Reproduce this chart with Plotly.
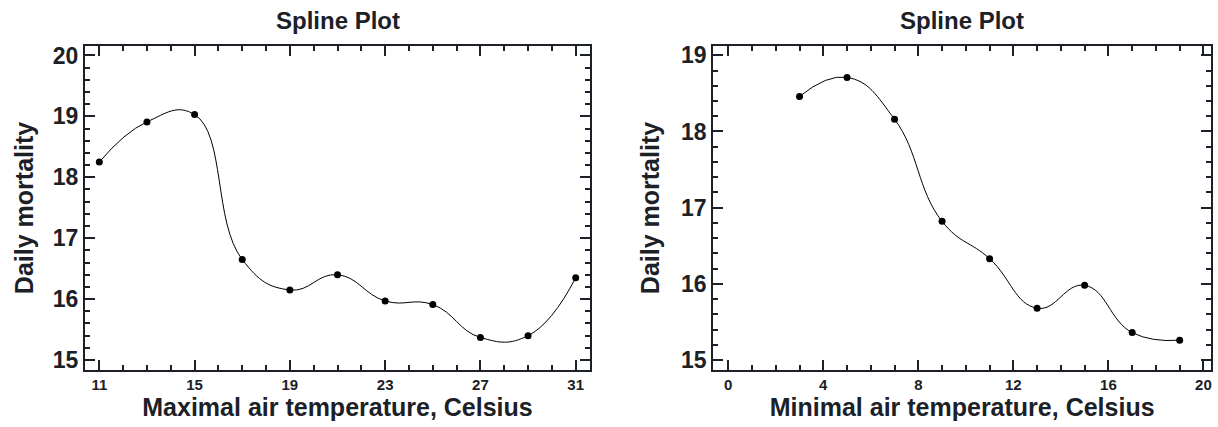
import plotly.graph_objects as go
from plotly.subplots import make_subplots

# Data
max_temp = [11, 13, 15, 17, 19, 21, 23, 25, 27, 29, 31]
mort_max = [18.25, 18.91, 19.03, 16.65, 16.15, 16.40, 15.97, 15.91, 15.37, 15.40, 16.35]
min_temp = [3, 5, 7, 9, 11, 13, 15, 17, 19]
mort_min = [18.46, 18.71, 18.16, 16.82, 16.33, 15.68, 15.98, 15.36, 15.26]

left_xticks = [11, 15, 19, 23, 27, 31]
right_xticks = [0, 4, 8, 12, 16, 20]
left_yticks = [15, 16, 17, 18, 19, 20]
right_yticks = [15, 16, 17, 18, 19]

TXT = "#1b2126"
FONT = "Liberation Sans"

fig = make_subplots(rows=1, cols=2)

for col, (xs, ys) in enumerate([(max_temp, mort_max), (min_temp, mort_min)], start=1):
    fig.add_trace(go.Scatter(
        x=xs, y=ys, mode="lines+markers",
        line=dict(color="black", width=1, shape="spline", smoothing=1.3),
        marker=dict(color="black", size=7),
        showlegend=False,
    ), row=1, col=col)

common_axis = dict(
    showline=True, linecolor=TXT, linewidth=2, mirror="ticks",
    ticks="inside", tickcolor=TXT, tickwidth=1.5, ticklen=10,
    showgrid=False, zeroline=False, automargin=False,
)
minor_common = dict(ticks="inside", ticklen=5, tickcolor=TXT, tickwidth=1.5)

fig.update_layout(
    width=1218, height=427,
    margin=dict(l=0, r=0, t=0, b=0),
    plot_bgcolor="white", paper_bgcolor="white",
    font=dict(family=FONT, color=TXT),
    xaxis=dict(domain=[0.0698, 0.4844], range=[10.4, 31.6],
               tickvals=left_xticks, ticktext=[f"<b>{v}</b>" for v in left_xticks],
               minor=dict(dtick=1, tick0=11, **minor_common),
               tickfont=dict(size=15, color=TXT),
               title=dict(text="<b>Maximal air temperature, Celsius</b>", font=dict(size=25), standoff=4),
               **common_axis),
    yaxis=dict(domain=[0.1335, 0.8923], range=[14.836, 20.156],
               tickvals=left_yticks, ticktext=[f"<b>{v}</b>" for v in left_yticks],
               minor=dict(dtick=0.2, tick0=15, **minor_common),
               tickfont=dict(size=23, color=TXT),
               title=dict(text="<b>Daily mortality</b>", font=dict(size=25), standoff=12),
               **common_axis),
    xaxis2=dict(domain=[0.5856, 0.9943], range=[-0.63, 20.32],
                tickvals=right_xticks, ticktext=[f"<b>{v}</b>" for v in right_xticks],
                minor=dict(dtick=1, tick0=0, **minor_common),
                tickfont=dict(size=15, color=TXT),
                title=dict(text="<b>Minimal air temperature, Celsius</b>", font=dict(size=25), standoff=4),
                **common_axis),
    yaxis2=dict(domain=[0.1335, 0.8923], range=[14.869, 19.122],
                tickvals=right_yticks, ticktext=[f"<b>{v}</b>" for v in right_yticks],
                minor=dict(dtick=0.2, tick0=15, **minor_common),
                tickfont=dict(size=23, color=TXT),
                title=dict(text="<b>Daily mortality</b>", font=dict(size=25), standoff=14),
                **common_axis),
)

for dom in ([0.0698, 0.4844], [0.5856, 0.9943]):
    fig.add_annotation(text="<b>Spline Plot</b>", x=(dom[0] + dom[1]) / 2, y=1 - 20 / 427,
                       xref="paper", yref="paper", showarrow=False,
                       font=dict(size=24, color=TXT, family=FONT), xanchor="center", yanchor="middle")

fig.write_html("out.html",
               config={"displayModeBar": False},
               post_script="document.body.style.margin='0';document.body.style.overflow='hidden';")
